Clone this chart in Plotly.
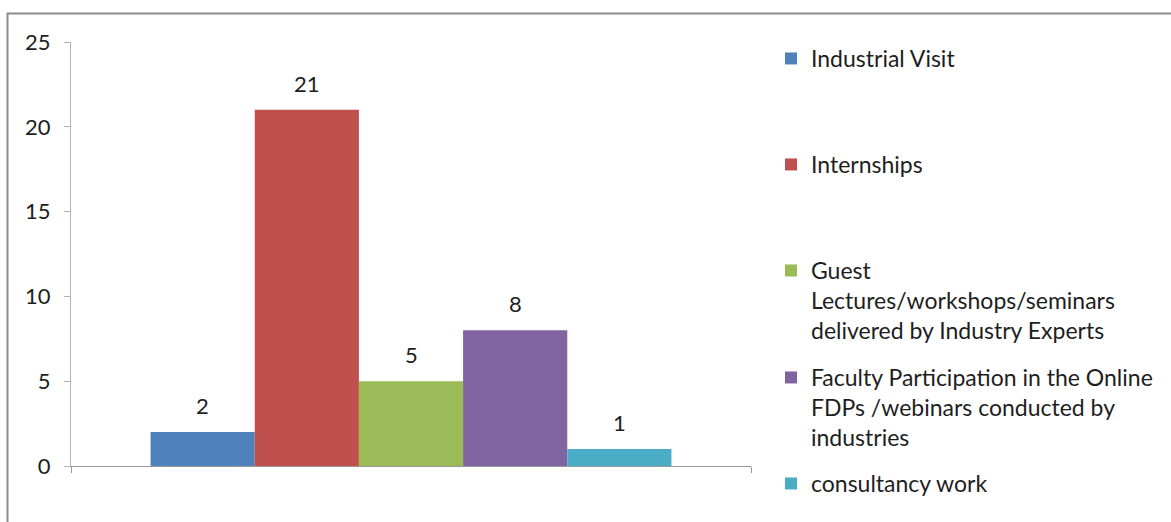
import plotly.graph_objects as go

# Data
series_names = [
    "Industrial Visit",
    "Internships",
    "Guest<br>Lectures/workshops/seminars<br>delivered by Industry Experts",
    "Faculty Participation in the Online<br>FDPs /webinars conducted by<br>industries",
    "consultancy work",
]
series_values = [2, 21, 5, 8, 1]
series_colors = ["#4F81BD", "#C0504D", "#9BBB59", "#8064A2", "#4BACC6"]
y_ticks = [0, 5, 10, 15, 20, 25]

# Canvas / plot-area geometry (pixels)
W, H = 1171, 522
PL, PR, PT, PB = 71, 751, 42, 466
BARGAP = 0.234
FONT = "Lato"
FS = 22
FS_LEG = 23
TEXT = "#1e1e1e"


def px_x(px):
    return (px - PL) / (PR - PL)


def px_y(py):
    return (PB - py) / (PB - PT)


fig = go.Figure()
n = len(series_values)
legend_tops = [37, 143, 249, 356, 462]
for i, (name, val, col) in enumerate(zip(series_names, series_values, series_colors)):
    lg = "legend" if i == 0 else f"legend{i + 1}"
    fig.add_trace(go.Bar(
        x=[0], y=[val], name=name,
        marker=dict(color=col, line=dict(width=0)),
        legend=lg, hoverinfo="skip",
    ))

# Value labels above each bar
w = (1 - BARGAP) / n
for i, val in enumerate(series_values):
    fig.add_annotation(
        x=(i - (n - 1) / 2) * w, y=val, xref="x", yref="y",
        text=str(val), showarrow=False, yanchor="bottom", yshift=11,
        font=dict(family=FONT, size=FS, color=TEXT),
    )

layout_legends = {}
for i, top in enumerate(legend_tops):
    key = "legend" if i == 0 else f"legend{i + 1}"
    layout_legends[key] = dict(
        x=px_x(771), xanchor="left", y=px_y(top), yanchor="top",
        font=dict(family=FONT, size=FS_LEG, color=TEXT),
        valign="top", bgcolor="rgba(0,0,0,0)", borderwidth=0,
    )

fig.update_layout(
    width=W, height=H,
    margin=dict(l=PL, r=W - PR, t=PT, b=H - PB, pad=0),
    paper_bgcolor="white", plot_bgcolor="white",
    barmode="group", bargap=BARGAP, bargroupgap=0,
    showlegend=True,
    font=dict(family=FONT, size=FS, color=TEXT),
    xaxis=dict(
        range=[-0.5, 0.5], tickvals=[-0.5, 0.5], showticklabels=False,
        ticks="outside", ticklen=6, tickcolor="#9a9a9a",
        showline=True, linecolor="#9a9a9a", linewidth=1,
        showgrid=False, zeroline=False, fixedrange=True,
    ),
    yaxis=dict(
        range=[0, 25], tickvals=y_ticks, ticks="outside", ticklen=6,
        tickcolor="#b3b3b3", showline=True, linecolor="#b3b3b3", linewidth=1,
        showgrid=False, zeroline=False, ticklabelstandoff=9,
        tickfont=dict(family=FONT, size=FS, color=TEXT),
    ),
    shapes=[dict(
        type="rect", xref="paper", yref="paper",
        x0=px_x(7.5), x1=px_x(W + 20), y0=px_y(H + 20), y1=px_y(13.5),
        line=dict(color="#8c8c8c", width=2), fillcolor="rgba(0,0,0,0)",
        layer="below",
    )],
    **layout_legends,
)

fig.write_html("out.html")
